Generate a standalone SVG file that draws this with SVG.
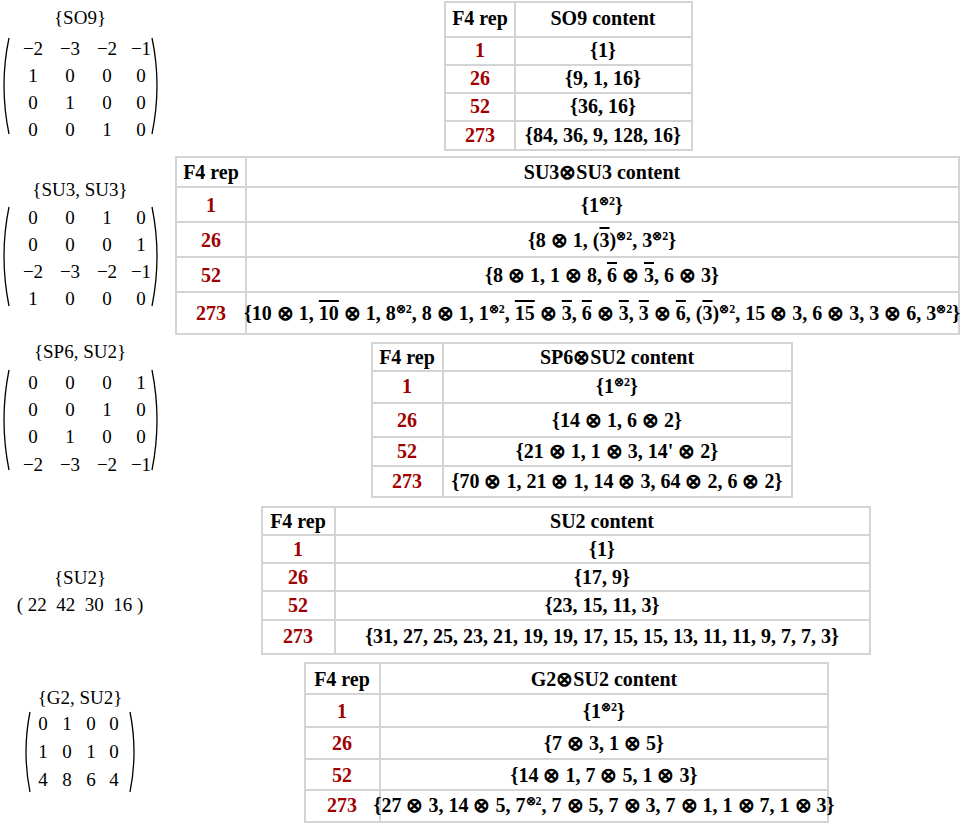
<svg xmlns="http://www.w3.org/2000/svg" width="960" height="826" viewBox="0 0 960 826" font-family="'Liberation Serif', Tinos, 'Times New Roman', serif">
<style>
text{font-family:'Liberation Serif',Tinos,'Times New Roman',serif;font-size:19px;fill:#000}
.t text{font-weight:bold;text-anchor:middle;font-size:20px}
.m text{text-anchor:middle}
.r{fill:#a00000}
.g{fill:none;stroke:#d4d4d4;stroke-width:2}
.p{fill:none;stroke:#000;stroke-width:1.3}
.t .s{font-size:12px}
.o{text-decoration:overline}
</style>
<rect width="960" height="826" fill="#fff"/>
<g id="m-so9" class="m">
<text x="80" y="24">{SO9}</text>
<path class="p" d="M9,38 Q-1,85 9,134 M152,38 Q162,85 152,134"/>
<text x="33" y="55">−2</text><text x="70" y="55">−3</text><text x="107" y="55">−2</text><text x="141" y="55">−1</text>
<text x="33" y="82">1</text><text x="70" y="82">0</text><text x="107" y="82">0</text><text x="141" y="82">0</text>
<text x="33" y="109">0</text><text x="70" y="109">1</text><text x="107" y="109">0</text><text x="141" y="109">0</text>
<text x="33" y="136">0</text><text x="70" y="136">0</text><text x="107" y="136">1</text><text x="141" y="136">0</text>
</g>
<g id="m-su3" class="m">
<text x="80" y="196">{SU3, SU3}</text>
<path class="p" d="M9,207 Q-1,256 9,306 M152,207 Q162,256 152,306"/>
<text x="33" y="224">0</text><text x="70" y="224">0</text><text x="107" y="224">1</text><text x="141" y="224">0</text>
<text x="33" y="251">0</text><text x="70" y="251">0</text><text x="107" y="251">0</text><text x="141" y="251">1</text>
<text x="33" y="278">−2</text><text x="70" y="278">−3</text><text x="107" y="278">−2</text><text x="141" y="278">−1</text>
<text x="33" y="305">1</text><text x="70" y="305">0</text><text x="107" y="305">0</text><text x="141" y="305">0</text>
</g>
<g id="m-sp6" class="m">
<text x="80" y="358">{SP6, SU2}</text>
<path class="p" d="M9,370 Q-1,420 9,470 M152,370 Q162,420 152,470"/>
<text x="33" y="389">0</text><text x="70" y="389">0</text><text x="107" y="389">0</text><text x="141" y="389">1</text>
<text x="33" y="416">0</text><text x="70" y="416">0</text><text x="107" y="416">1</text><text x="141" y="416">0</text>
<text x="33" y="443">0</text><text x="70" y="443">1</text><text x="107" y="443">0</text><text x="141" y="443">0</text>
<text x="33" y="471">−2</text><text x="70" y="471">−3</text><text x="107" y="471">−2</text><text x="141" y="471">−1</text>
</g>
<g id="m-su2" class="m">
<text x="80" y="584">{SU2}</text>
<text x="80" y="611" xml:space="preserve">( 22  42  30  16 )</text>
</g>
<g id="m-g2" class="m">
<text x="80" y="704">{G2, SU2}</text>
<path class="p" d="M30,712 Q22,752 30,792 M130,712 Q138,752 130,792"/>
<text x="43" y="730">0</text><text x="67" y="730">1</text><text x="91" y="730">0</text><text x="114" y="730">0</text>
<text x="43" y="758">1</text><text x="67" y="758">0</text><text x="91" y="758">1</text><text x="114" y="758">0</text>
<text x="43" y="786">4</text><text x="67" y="786">8</text><text x="91" y="786">6</text><text x="114" y="786">4</text>
</g>
<g id="t-so9" class="t">
<rect class="g" x="445" y="2" width="247" height="148"/>
<path class="g" d="M515,2V150M445,37H692M445,65H692M445,93H692M445,121H692"/>
<text x="480" y="25">F4 rep</text><text x="603" y="25">SO9 content</text>
<text class="r" x="480" y="57">1</text><text x="603" y="57">{1}</text>
<text class="r" x="480" y="85">26</text><text x="603" y="85">{9, 1, 16}</text>
<text class="r" x="480" y="113">52</text><text x="603" y="113">{36, 16}</text>
<text class="r" x="480" y="142">273</text><text x="603" y="142">{84, 36, 9, 128, 16}</text>
</g>
<g id="t-su3" class="t">
<rect class="g" x="176" y="157" width="783" height="177"/>
<path class="g" d="M246,157V334M176,187H959M176,222H959M176,257H959M176,292H959"/>
<text x="211" y="179">F4 rep</text><text x="602" y="179">SU3⊗SU3 content</text>
<text class="r" x="211" y="212">1</text><text x="602" y="212">{1<tspan class="s" dy="-7">⊗2</tspan><tspan dy="7">}</tspan></text>
<text class="r" x="211" y="247">26</text><text x="602" y="247">{8 ⊗ 1, (<tspan class="o">3</tspan>)<tspan class="s" dy="-7">⊗2</tspan><tspan dy="7">, 3</tspan><tspan class="s" dy="-7">⊗2</tspan><tspan dy="7">}</tspan></text>
<text class="r" x="211" y="282">52</text><text x="602" y="282">{8 ⊗ 1, 1 ⊗ 8, <tspan class="o">6</tspan> ⊗ <tspan class="o">3</tspan>, 6 ⊗ 3}</text>
<text class="r" x="211" y="320">273</text><text x="602" y="320">{10 ⊗ 1, <tspan class="o">10</tspan> ⊗ 1, 8<tspan class="s" dy="-7">⊗2</tspan><tspan dy="7">, 8 ⊗ 1, 1</tspan><tspan class="s" dy="-7">⊗2</tspan><tspan dy="7">, </tspan><tspan class="o">15</tspan> ⊗ <tspan class="o">3</tspan>, <tspan class="o">6</tspan> ⊗ <tspan class="o">3</tspan>, <tspan class="o">3</tspan> ⊗ <tspan class="o">6</tspan>, (<tspan class="o">3</tspan>)<tspan class="s" dy="-7">⊗2</tspan><tspan dy="7">, 15 ⊗ 3, 6 ⊗ 3, 3 ⊗ 6, 3</tspan><tspan class="s" dy="-7">⊗2</tspan><tspan dy="7">}</tspan></text>
</g>
<g id="t-sp6" class="t">
<rect class="g" x="372" y="343" width="420" height="154"/>
<path class="g" d="M443,343V497M372,371H792M372,403H792M372,437H792M372,466H792"/>
<text x="407" y="364">F4 rep</text><text x="617" y="364">SP6⊗SU2 content</text>
<text class="r" x="407" y="393">1</text><text x="617" y="393">{1<tspan class="s" dy="-7">⊗2</tspan><tspan dy="7">}</tspan></text>
<text class="r" x="407" y="427">26</text><text x="617" y="427">{14 ⊗ 1, 6 ⊗ 2}</text>
<text class="r" x="407" y="458">52</text><text x="617" y="458">{21 ⊗ 1, 1 ⊗ 3, 14' ⊗ 2}</text>
<text class="r" x="407" y="488">273</text><text x="617" y="488">{70 ⊗ 1, 21 ⊗ 1, 14 ⊗ 3, 64 ⊗ 2, 6 ⊗ 2}</text>
</g>
<g id="t-su2" class="t">
<rect class="g" x="262" y="507" width="608" height="147"/>
<path class="g" d="M335,507V654M262,535H870M262,563H870M262,591H870M262,620H870"/>
<text x="298" y="528">F4 rep</text><text x="602" y="528">SU2 content</text>
<text class="r" x="298" y="556">1</text><text x="602" y="556">{1}</text>
<text class="r" x="298" y="584">26</text><text x="602" y="584">{17, 9}</text>
<text class="r" x="298" y="612">52</text><text x="602" y="612">{23, 15, 11, 3}</text>
<text class="r" x="298" y="643">273</text><text x="602" y="643">{31, 27, 25, 23, 21, 19, 19, 17, 15, 15, 13, 11, 11, 9, 7, 7, 3}</text>
</g>
<g id="t-g2" class="t">
<rect class="g" x="305" y="663" width="523" height="159"/>
<path class="g" d="M380,663V822M305,694H828M305,727H828M305,759H828M305,790H828"/>
<text x="342" y="686">F4 rep</text><text x="604" y="686">G2⊗SU2 content</text>
<text class="r" x="342" y="718">1</text><text x="604" y="718">{1<tspan class="s" dy="-7">⊗2</tspan><tspan dy="7">}</tspan></text>
<text class="r" x="342" y="750">26</text><text x="604" y="750">{7 ⊗ 3, 1 ⊗ 5}</text>
<text class="r" x="342" y="782">52</text><text x="604" y="782">{14 ⊗ 1, 7 ⊗ 5, 1 ⊗ 3}</text>
<text class="r" x="342" y="812">273</text><text x="604" y="812">{27 ⊗ 3, 14 ⊗ 5, 7<tspan class="s" dy="-7">⊗2</tspan><tspan dy="7">, 7 ⊗ 5, 7 ⊗ 3, 7 ⊗ 1, 1 ⊗ 7, 1 ⊗ 3}</tspan></text>
</g>
</svg>
